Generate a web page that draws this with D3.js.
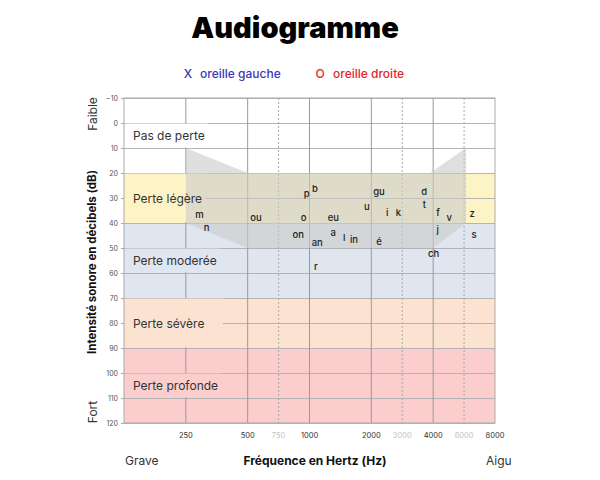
<!DOCTYPE html>
<html>
<head>
<meta charset="utf-8">
<script src="https://cdn.jsdelivr.net/npm/d3@7"></script>
<style>
  body { margin: 0; background: #fff; }
  svg { font-family: Inter, "Noto Sans", sans-serif; }
</style>
</head>
<body>
<svg id="chart" width="600" height="480"></svg>
<script>
// degrees of hearing loss (dB bands)
var bandNames = ["Pas de perte", "Perte légère", "Perte moderée", "Perte sévère", "Perte profonde"];
var bandFrom = [-10, 20, 40, 70, 90];
var bandTo = [20, 40, 70, 90, 120];
var bandLabelDb = [5, 30, 55, 80, 105];
var bandColors = ["#ffffff", "#fdf4c6", "#dfe6f0", "#fce3d1", "#fbcdcd"];

// axis ticks
var freqTicks = [250, 500, 750, 1000, 2000, 3000, 4000, 6000, 8000];
var halfOctave = [750, 3000, 6000];
var dbTicks = [-10, 0, 10, 20, 30, 40, 50, 60, 70, 80, 90, 100, 110, 120];

// speech banana outline
var bananaHz = [250, 500, 3860, 5780, 5780, 4000, 500, 250];
var bananaDb = [10, 20, 20, 10, 40, 50, 50, 40];

// phonemes
var phonemes = ["m", "n", "ou", "p", "b", "o", "eu", "on", "an", "a", "l", "in", "é", "r",
                "gu", "u", "i", "k", "d", "t", "f", "v", "j", "ch", "z", "s"];
var phonemeHz = [291, 316, 549, 970, 1064, 937, 1306, 882, 1091, 1306, 1477, 1647, 2180, 1075,
                 2180, 1900, 2390, 2710, 3620, 3620, 4220, 4790, 4210, 4025, 6200, 6325];
var phonemeDb = [37, 42, 38, 28.5, 26.5, 38, 38, 45, 48, 44, 46, 47, 47.5, 57.7,
                 27.7, 33.5, 36, 36, 27.7, 33, 36, 38, 43, 52.4, 36.4, 45];

var svg = d3.select("#chart");

var x = d3.scaleLog().base(2).domain([125, 8000]).range([124, 495]);
var y = d3.scaleLinear().domain([-10, 120]).range([98, 423]);

// audiogram convention: half octave lines sit midway between octaves
function tickX(f) {
    if (halfOctave.indexOf(f) < 0) return x(f);
    var lo = Math.pow(2, Math.floor(Math.log2(f / 125))) * 125;
    return (x(lo) + x(lo * 2)) / 2;
}

//title
svg.append("text")
    .attr("x", 295).attr("y", 38)
    .attr("text-anchor", "middle")
    .style("font-size", "29px").style("font-weight", 900)
    .text("Audiogramme");

//legend
var legend = svg.append("g").style("font-size", "12px").style("font-weight", 500);
legend.append("text").attr("x", 188).attr("y", 73).attr("text-anchor", "middle")
    .attr("dominant-baseline", "central").attr("fill", "#3b36b8").text("X");
legend.append("text").attr("x", 200).attr("y", 73)
    .attr("dominant-baseline", "central").attr("fill", "#3b36b8").text("oreille gauche");
legend.append("text").attr("x", 320).attr("y", 73).attr("text-anchor", "middle")
    .attr("dominant-baseline", "central").attr("fill", "#e3262c").text("O");
legend.append("text").attr("x", 333).attr("y", 73)
    .attr("dominant-baseline", "central").attr("fill", "#e3262c").text("oreille droite");

var plot = svg.append("g");
var x0 = x.range()[0], x1 = x.range()[1];

//bands
plot.selectAll("rect.band")
    .data(bandNames)
    .enter().append("rect")
    .attr("class", "band")
    .attr("x", x0).attr("width", x1 - x0)
    .attr("y", function(d, i) { return y(bandFrom[i]); })
    .attr("height", function(d, i) { return y(bandTo[i]) - y(bandFrom[i]); })
    .attr("fill", function(d, i) { return bandColors[i]; });

//horizontal gridlines
plot.append("g")
    .attr("transform", "translate(" + x0 + ",0)")
    .call(d3.axisLeft(y).tickValues(dbTicks).tickSize(-(x1 - x0)).tickFormat(""))
    .call(function(g) {
        g.select(".domain").remove();
        g.selectAll("line").attr("stroke", "#b4b4b4");
    });

//vertical gridlines
plot.selectAll("line.vgrid")
    .data(freqTicks.slice(0, -1))
    .enter().append("line")
    .attr("class", "vgrid")
    .attr("x1", tickX).attr("x2", tickX)
    .attr("y1", y(-10)).attr("y2", y(120))
    .attr("stroke", function(d) { return halfOctave.indexOf(d) < 0 ? "#9a9a9a" : "#a8a8a8"; })
    .attr("stroke-dasharray", function(d) { return halfOctave.indexOf(d) < 0 ? null : "2,2"; });

//band labels (masks hide the grid under them, text goes on top later)
var maskLayer = plot.append("g");
var bananaLayer = plot.append("g");
var textLayer = plot.append("g");

var labelText = textLayer.selectAll("text.blabel")
    .data(bandNames)
    .enter().append("text")
    .attr("class", "blabel")
    .attr("x", 133)
    .attr("y", function(d, i) { return y(bandLabelDb[i]); })
    .attr("dominant-baseline", "central")
    .style("font-size", "12px").attr("fill", "#333")
    .text(function(d) { return d; });

maskLayer.selectAll("rect")
    .data(bandNames)
    .enter().append("rect")
    .attr("x", x0 + 0.5)
    .attr("y", function(d, i) {
        var v = bandLabelDb[i];
        return y(v % 10 === 0 ? v - 10 : Math.floor(v / 10) * 10) + 0.6;
    })
    .attr("height", function(d, i) {
        var v = bandLabelDb[i];
        return (v % 10 === 0 ? y(20) - y(0) : y(10) - y(0)) - 1.2;
    })
    .attr("width", function(d, i) {
        var b = labelText.nodes()[i].getBBox();
        return b.x + b.width + (i === 3 ? 18 : 3) - x0;
    })
    .attr("fill", function(d, i) { return bandColors[i]; });

//speech banana
bananaLayer.append("path")
    .datum(bananaHz.map(function(f, i) { return [x(f), y(bananaDb[i])]; }))
    .attr("d", function(d) { return d3.line()(d) + "Z"; })
    .attr("fill", "#cbcbcb")
    .attr("opacity", 0.62);

//plot border
plot.append("rect")
    .attr("x", x0).attr("y", y(-10))
    .attr("width", x1 - x0).attr("height", y(120) - y(-10))
    .attr("fill", "none").attr("stroke", "#aaa");

//y axis
var yAxis = svg.append("g")
    .attr("transform", "translate(" + x0 + ",0)")
    .call(d3.axisLeft(y).tickValues(dbTicks).tickSize(3).tickPadding(3));
yAxis.select(".domain").remove();
yAxis.selectAll("line").attr("stroke", "#aaa");
yAxis.selectAll("text").attr("fill", "#555").style("font-size", "7px")
    .style("font-family", "Inter, sans-serif");

//x axis labels
svg.selectAll("text.xtick")
    .data(freqTicks)
    .enter().append("text")
    .attr("class", "xtick")
    .attr("x", tickX).attr("y", 435)
    .attr("text-anchor", "middle").attr("dominant-baseline", "central")
    .style("font-size", "7.5px")
    .attr("fill", function(d) { return halfOctave.indexOf(d) < 0 ? "#333" : "#c4c4c4"; })
    .text(function(d) { return d; });

//phonemes
textLayer.selectAll("text.ph")
    .data(phonemes)
    .enter().append("text")
    .attr("class", "ph")
    .attr("x", function(d, i) { return x(phonemeHz[i]); })
    .attr("y", function(d, i) { return y(phonemeDb[i]); })
    .attr("dy", "0.3em")
    .attr("text-anchor", "middle")
    .style("font-size", "9.5px").style("font-weight", 500).attr("fill", "#222")
    .text(function(d) { return d; });

//axis titles
svg.append("text")
    .attr("transform", "translate(92,262) rotate(-90)")
    .attr("text-anchor", "middle").attr("dominant-baseline", "central")
    .style("font-size", "11.5px").style("font-weight", 700).attr("fill", "#111")
    .text("Intensité sonore en décibels (dB)");
svg.append("text")
    .attr("transform", "translate(92,114) rotate(-90)")
    .attr("text-anchor", "middle").attr("dominant-baseline", "central")
    .style("font-size", "12px").attr("fill", "#333")
    .text("Faible");
svg.append("text")
    .attr("transform", "translate(92,412) rotate(-90)")
    .attr("text-anchor", "middle").attr("dominant-baseline", "central")
    .style("font-size", "12px").attr("fill", "#333")
    .text("Fort");
svg.append("text")
    .attr("x", 315).attr("y", 460)
    .attr("text-anchor", "middle").attr("dominant-baseline", "central")
    .style("font-size", "12px").style("font-weight", 700).attr("fill", "#111")
    .text("Fréquence en Hertz (Hz)");
svg.append("text")
    .attr("x", 125).attr("y", 460).attr("dominant-baseline", "central")
    .style("font-size", "12px").attr("fill", "#333")
    .text("Grave");
svg.append("text")
    .attr("x", 486).attr("y", 460).attr("dominant-baseline", "central")
    .style("font-size", "12px").attr("fill", "#333")
    .text("Aigu");
</script>
</body>
</html>
